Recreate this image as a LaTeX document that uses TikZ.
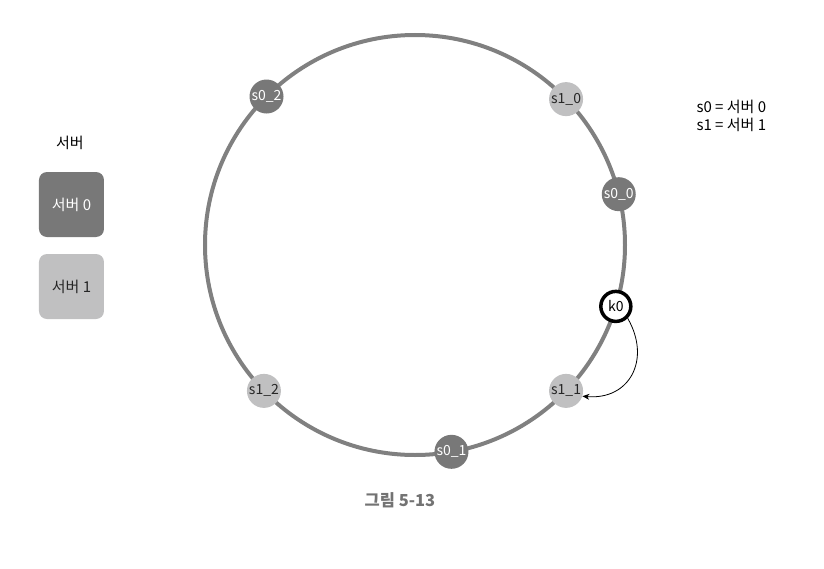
\documentclass[tikz,border=0pt]{standalone}
\usepackage{fontspec}
\setmainfont{Noto Sans CJK KR}
\usetikzlibrary{arrows.meta}
\definecolor{srvdark}{RGB}{120,120,120}
\definecolor{srvlight}{RGB}{192,192,193}
\definecolor{ringgray}{RGB}{128,128,128}
\tikzset{
  ring/.style={x=1pt,y=1pt,font=\fontsize{14}{16}\selectfont},
  srv0/.style={circle,fill=srvdark,text=white,minimum size=34pt,inner sep=0pt},
  srv1/.style={circle,fill=srvlight,text=black!85,minimum size=34pt,inner sep=0pt},
  keynode/.style={circle,draw=black,line width=3.5pt,fill=white,minimum size=30pt,inner sep=0pt},
  legbox/.style={rounded corners=8pt,minimum width=65pt,minimum height=65pt,font=\fontsize{15}{17}\selectfont}
}

\begin{document}
\begin{tikzpicture}[ring]
    \useasboundingbox (-415,-323) rectangle (409,245);
    \def\r{210}
    \draw[ringgray,line width=4pt] (0,0) circle (\r);
    % servers on the ring
    \node[srv0] (s02) at (135:\r) {s0\_2};
    \node[srv1] (s10) at (44:\r)  {s1\_0};
    \node[srv0] (s00) at (14:\r)  {s0\_0};
    \node[srv1] (s11) at (-44:\r) {s1\_1};
    \node[srv0] (s01) at (-80:\r) {s0\_1};
    \node[srv1] (s12) at (-136:\r) {s1\_2};
    \node[keynode] (k0) at (-17:\r) {k0};
    \draw[-{Stealth[length=7pt,width=6pt]},line width=0.8pt] (k0.-45) to[out=-60,in=-5,looseness=1.35] (s11.-18);
    % legend
    \node[font=\fontsize{15}{17}\selectfont] (srvtitle) at (-345,102) {서버};
    \node[legbox,fill=srvdark,text=white] (box0) at (-343.5,40.5) {서버 0};
    \node[legbox,fill=srvlight,text=black!85] (box1) at (-343.5,-41.5) {서버 1};
    \node[anchor=west,align=left,font=\fontsize{15}{18}\selectfont] (map) at (278,129) {s0 = 서버 0\\s1 = 서버 1};
    \node[text=black!55,font=\bfseries\fontsize{16.5}{18}\selectfont] (caption) at (-15,-255) {그림 5-13};
\end{tikzpicture}
\end{document}
